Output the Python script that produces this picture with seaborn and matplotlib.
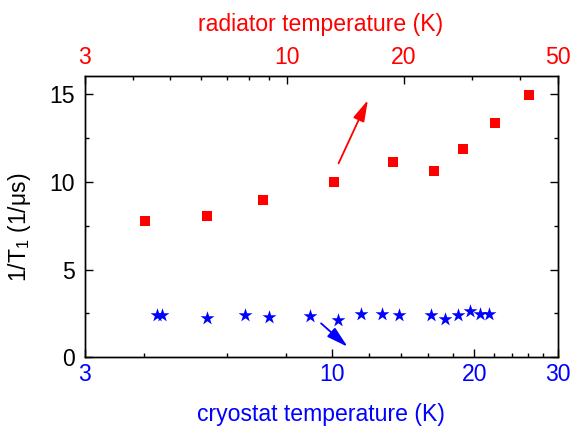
import numpy as np
import matplotlib.pyplot as plt
import matplotlib.ticker as mticker
import seaborn as sns
import pandas as pd

# cryostat temperature series (blue stars, bottom axis)
cryo_T = [4.27, 4.38, 5.45, 6.56, 7.36, 8.99, 10.29, 11.53, 12.75, 13.87,
          16.19, 17.38, 18.46, 19.57, 20.58, 21.50]
cryo_rate = [2.40, 2.40, 2.22, 2.42, 2.29, 2.36, 2.12, 2.44, 2.48, 2.42,
             2.42, 2.16, 2.40, 2.65, 2.44, 2.48]

# radiator temperature series (red squares, top axis)
rad_T = [4.30, 6.22, 8.68, 13.24, 18.8, 23.96, 28.5, 34.5, 42.3]
rad_rate = [7.75, 8.05, 8.93, 9.98, 11.10, 10.63, 11.88, 13.32, 14.91]

bottom_major = [3, 10, 20, 30]
bottom_minor = [4, 6, 8, 12, 14, 16, 18, 22, 24, 26, 28]
top_major = [3, 10, 20, 50]
top_minor = [4, 5, 6, 7, 8, 9, 30, 40]

sns.set_style('ticks')
plt.rcParams['font.family'] = ['Liberation Sans', 'DejaVu Sans']
plt.rcParams['mathtext.fontset'] = 'custom'
plt.rcParams['mathtext.rm'] = 'Liberation Sans'
plt.rcParams['axes.linewidth'] = 1.0
plt.rcParams['axes.edgecolor'] = 'black'
plt.rcParams['text.color'] = 'black'
plt.rcParams['axes.labelcolor'] = 'black'
plt.rcParams['xtick.color'] = 'black'
plt.rcParams['ytick.color'] = 'black'

fs = 16.6

fig = plt.figure(figsize=(5.79, 4.28), dpi=100)
ax = fig.add_axes([0.146, 0.165, 0.817, 0.657])

sns.scatterplot(x=cryo_T, y=cryo_rate, marker='*', color='blue', s=110,
                linewidth=0, ax=ax, zorder=3)
ax.set_xscale('log')
ax.set_xlim(3, 30)
ax.set_ylim(0, 16)

ax.xaxis.set_major_locator(mticker.FixedLocator(bottom_major))
ax.xaxis.set_major_formatter(mticker.FixedFormatter([str(t) for t in bottom_major]))
ax.xaxis.set_minor_locator(mticker.FixedLocator(bottom_minor))
ax.xaxis.set_minor_formatter(mticker.NullFormatter())
ax.yaxis.set_major_locator(mticker.MultipleLocator(5))
ax.yaxis.set_minor_locator(mticker.MultipleLocator(2.5))

ax.tick_params(axis='x', which='major', direction='in', length=5.5, width=1,
               labelsize=fs, labelcolor='blue', pad=4, top=False)
ax.tick_params(axis='x', which='minor', direction='in', length=3, width=1, top=False)
ax.tick_params(axis='y', which='major', direction='in', length=5.5, width=1,
               labelsize=fs, labelcolor='black', pad=7, right=True)
ax.tick_params(axis='y', which='minor', direction='in', length=3, width=1, right=True)

ax.set_xlabel('cryostat temperature (K)', fontsize=fs, color='blue')
ax.xaxis.set_label_coords(0.5, -0.162)
ax.set_ylabel('1/T$_\\mathregular{1}$ (1/μs)', fontsize=fs, color='black')
ax.yaxis.set_label_coords(-0.108, 0.461)

ax2 = ax.twiny()
sns.scatterplot(x=rad_T, y=rad_rate, marker='s', color='red', s=48,
                linewidth=0, ax=ax2, zorder=3)
ax2.set_xscale('log')
ax2.set_xlim(3, 50)
ax2.xaxis.set_major_locator(mticker.FixedLocator(top_major))
ax2.xaxis.set_major_formatter(mticker.FixedFormatter([str(t) for t in top_major]))
ax2.xaxis.set_minor_locator(mticker.FixedLocator(top_minor))
ax2.xaxis.set_minor_formatter(mticker.NullFormatter())
ax2.tick_params(axis='x', which='major', direction='in', length=5.5, width=1,
                labelsize=fs, labelcolor='red', pad=5)
ax2.tick_params(axis='x', which='minor', direction='in', length=3, width=1)
ax2.set_xlabel('radiator temperature (K)', fontsize=fs, color='red')
ax2.xaxis.set_label_coords(0.5, 1.16)

# arrows pointing to the relevant axes
ax.annotate('', xy=(0.599, 0.915), xytext=(0.537, 0.690), xycoords='axes fraction',
            arrowprops=dict(arrowstyle='-|>,head_length=0.72,head_width=0.2',
                            color='red', lw=1.3, mutation_scale=18,
                            shrinkA=0, shrinkB=0))
ax.annotate('', xy=(0.556, 0.038), xytext=(0.500, 0.121), xycoords='axes fraction',
            arrowprops=dict(arrowstyle='-|>,head_length=0.72,head_width=0.2',
                            color='blue', lw=1.3, mutation_scale=18,
                            shrinkA=0, shrinkB=0))

plt.savefig('out.png', dpi=100)
